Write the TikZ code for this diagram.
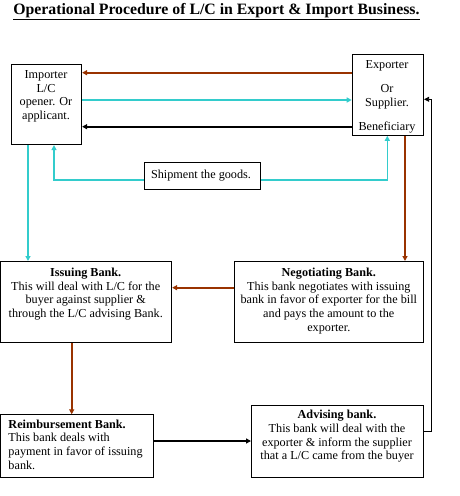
\documentclass[tikz,border=0pt]{standalone}
\usepackage{fontspec}
\setmainfont{Liberation Serif}
\usetikzlibrary{arrows.meta}
\definecolor{brn}{RGB}{153,51,0}
\definecolor{cyn}{RGB}{51,204,204}
\tikzset{
  box/.style={draw, line width=0.8pt, inner sep=0, anchor=north west},
  txt/.style={inner sep=0, align=center, anchor=north, font=\fontsize{12.2}{13.6}\selectfont},
  tip/.style={-{Triangle[length=5pt,width=5pt]}},
  brline/.style={tip, draw=brn, line width=1.6pt},
  cyline/.style={tip, draw=cyn, line width=1.6pt},
  bkline/.style={tip, draw=black, line width=1.6pt},
  thinline/.style={tip, draw=black, line width=0.8pt}
}
\begin{document}
\begin{tikzpicture}[x=1pt,y=-1pt]
\useasboundingbox[fill=white] (0,0) rectangle (460,496);
% title
\node[inner sep=0, anchor=base, font=\fontsize{15.8}{18}\selectfont\bfseries] (title) at (216.4,14.7) {\underline{Operational Procedure of L/C in Export \& Import Business.}};
% boxes
\node[box, minimum width=70.6pt, minimum height=80pt] (imp) at (10.7,64.3) {};
\node[box, minimum width=71.6pt, minimum height=80.7pt] (exp) at (351.7,54.3) {};
\node[box, minimum width=116.3pt, minimum height=26.7pt] (ship) at (144,162.3) {};
\node[box, minimum width=170.8pt, minimum height=81.3pt] (iss) at (0.5,261) {};
\node[box, minimum width=189pt, minimum height=81.3pt] (neg) at (234.3,261) {};
\node[box, minimum width=152.8pt, minimum height=63pt] (reim) at (0.5,414.3) {};
\node[box, minimum width=171.7pt, minimum height=72.3pt] (adv) at (251,405) {};
% texts
\node[txt] (impt) at (46,70.3) {Importer\\L/C\\opener. Or\\applicant.};
\node[txt] (expt) at (387,60.3) {Exporter\\[10.5pt]Or\\Supplier.\\[10.5pt]Beneficiary};
\node[txt] (shipt) at (201,169.5) {Shipment the goods.};
\node[txt] (isst) at (85.7,268) {\textbf{Issuing Bank.}\\This will deal with L/C for the\\buyer against supplier \&\\through the L/C advising Bank.};
\node[txt] (negt) at (328.8,268) {\textbf{Negotiating Bank.}\\This bank negotiates with issuing\\bank in favor of exporter for the bill\\and pays the amount to the\\exporter.};
\node[txt, anchor=north west, align=left] (reimt) at (8.3,419.6) {\textbf{Reimbursement Bank.}\\This bank deals with\\payment in favor of issuing\\bank.};
\node[txt] (advt) at (337,410.3) {\textbf{Advising bank.}\\This bank will deal with the\\exporter \& inform the supplier\\that a L/C came from the buyer};
% helper coordinates
\coordinate (ya) at (0,72.7);
\coordinate (yb) at (0,100);
\coordinate (yc) at (0,126.7);
\coordinate (ys) at (0,180);
\coordinate (xa) at (54,0);
\coordinate (xb) at (387.3,0);
\coordinate (xc) at (28,0);
\coordinate (xd) at (405,0);
\coordinate (yd) at (0,287.7);
\coordinate (xe) at (71.7,0);
\coordinate (ye) at (0,441);
\coordinate (yf) at (0,431.7);
\coordinate (cg) at (431.7,99.3);
% connectors
\draw[brline] (exp.west |- ya) -- (imp.east |- ya);
\draw[cyline] (imp.east |- yb) -- (exp.west |- yb);
\draw[bkline] (exp.west |- yc) -- (imp.east |- yc);
\draw[cyline] (ship.west |- ys) -| (xa |- imp.south);
\draw[cyline] (ship.east |- ys) -| (xb |- exp.south);
\draw[cyline] (xc |- imp.south) -- (xc |- iss.north);
\draw[brline] (xd |- exp.south) -- (xd |- neg.north);
\draw[brline] (neg.west |- yd) -- (iss.east |- yd);
\draw[brline] (xe |- iss.south) -- (xe |- reim.north);
\draw[bkline] (reim.east |- ye) -- (adv.west |- ye);
\draw[thinline] (adv.east |- yf) -| (cg) -- (exp.east |- cg);
\end{tikzpicture}
\end{document}
